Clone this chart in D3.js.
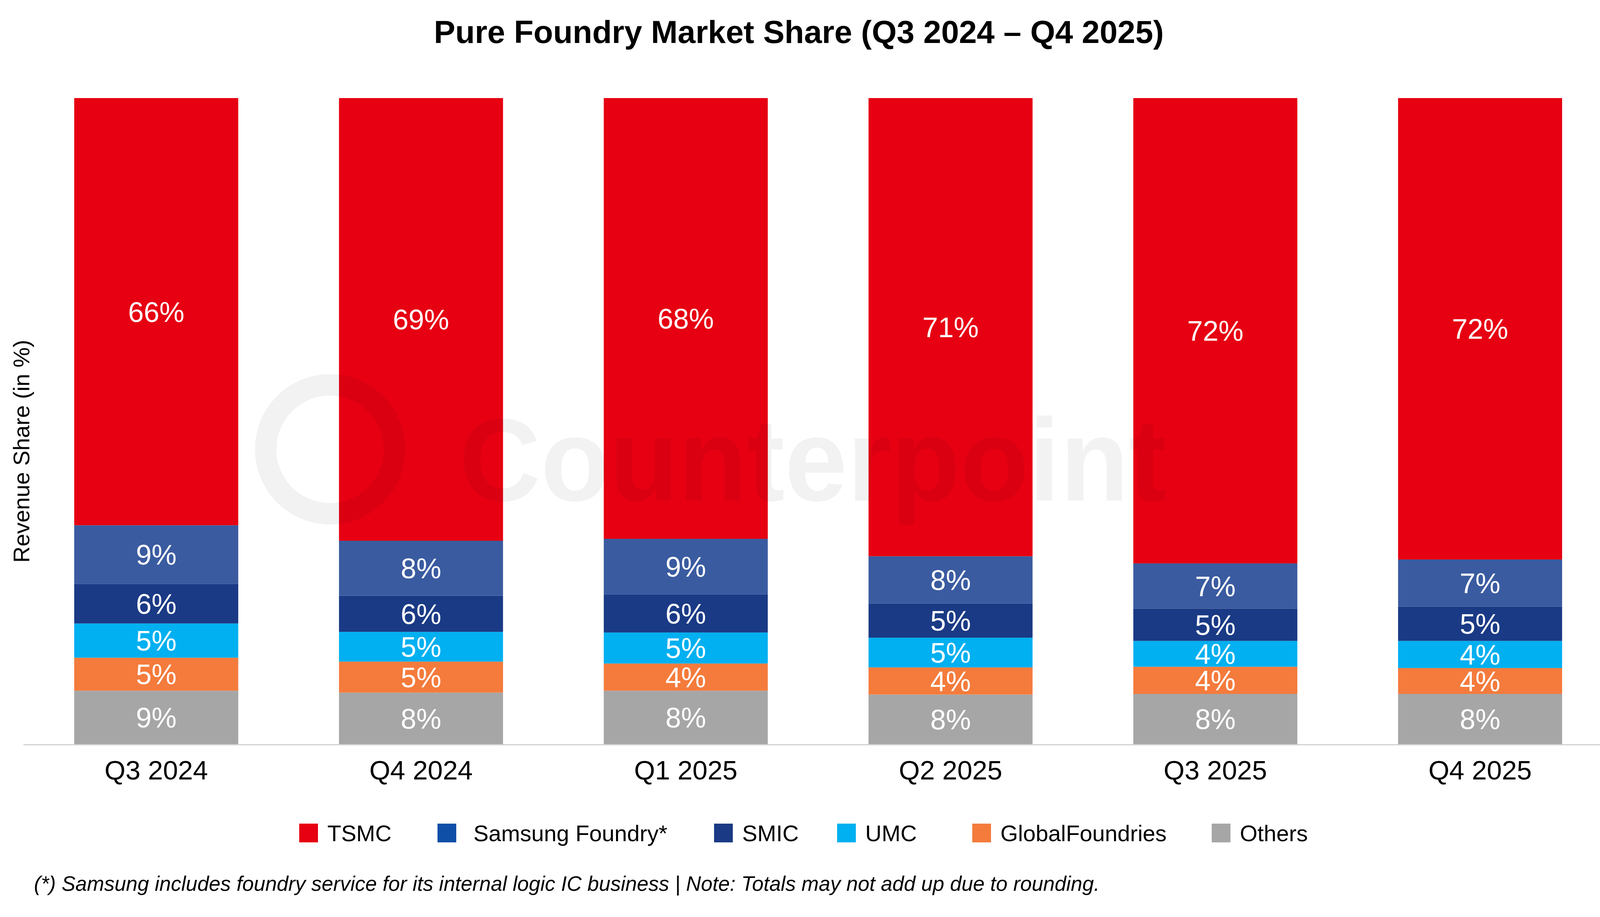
<!DOCTYPE html>
<html><head><meta charset="utf-8">
<script src="https://cdn.jsdelivr.net/npm/d3@7/dist/d3.min.js"></script>
<style>body{margin:0;background:#fff}svg{display:block}text{font-family:"Liberation Sans",Arial,sans-serif}</style>
</head><body>
<script>
const categories=["Q3 2024","Q4 2024","Q1 2025","Q2 2025","Q3 2025","Q4 2025"];
const seriesNames=["Others","GlobalFoundries","UMC","SMIC","Samsung Foundry*","TSMC"];
const others=[8.3,8.0,8.3,7.7,7.8,7.8];
const globalFoundries=[5.1,4.8,4.2,4.2,4.2,4.0];
const umc=[5.3,4.6,4.8,4.6,4.0,4.2];
const smic=[6.1,5.6,5.9,5.3,5.0,5.3];
const samsung=[9.1,8.5,8.6,7.3,7.0,7.3];
const tsmc=[66.1,68.5,68.2,70.9,72.0,71.4];
const labOthers=[9,8,8,8,8,8],labGF=[5,5,4,4,4,4],labUMC=[5,5,5,5,4,4],labSMIC=[6,6,6,5,5,5],labSam=[9,8,9,8,7,7],labTSMC=[66,69,68,71,72,72];
const values=[others,globalFoundries,umc,smic,samsung,tsmc];
const labels=[labOthers,labGF,labUMC,labSMIC,labSam,labTSMC];
const colors=["#a6a6a6","#f47b3c","#00b0f0","#1a3a85","#3a5ba0","#e60012"];
const legendOrder=["TSMC","Samsung Foundry*","SMIC","UMC","GlobalFoundries","Others"];
const legendColors=["#e60012","#0f4fa8","#1a3a85","#00b0f0","#f47b3c","#a6a6a6"];

const W=4143,H=2347;
const svg=d3.select("body").append("svg").attr("width",W).attr("height",H);

const x=d3.scaleBand().domain(categories).range([190,3999]).paddingInner(0.3805).paddingOuter(0);
const y=d3.scaleLinear().domain([0,100]).range([1905,251]);
const rows=categories.map((c,i)=>{const r={cat:c};seriesNames.forEach((s,j)=>r[s]=values[j][i]);return r;});
const stack=d3.stack().keys(seriesNames)(rows);
stack.forEach((layer,j)=>{
  svg.append("g").selectAll("rect").data(layer).join("rect")
   .attr("x",d=>x(d.data.cat)).attr("width",x.bandwidth())
   .attr("y",d=>y(d[1])).attr("height",d=>y(d[0])-y(d[1])).attr("fill",colors[j]);
});
// watermark over bars
svg.append("circle").attr("cx",845).attr("cy",1150).attr("r",165).attr("fill","none").attr("stroke","#000").attr("stroke-opacity",0.05).attr("stroke-width",55);
svg.append("text").attr("x",1176).attr("y",1281).attr("font-size",300).attr("font-weight","bold").attr("textLength",1810).attr("lengthAdjust","spacingAndGlyphs").attr("fill","#000").attr("fill-opacity",0.05).text("Counterpoint");
stack.forEach((layer,j)=>{
  svg.append("g").selectAll("text").data(layer).join("text")
   .attr("x",d=>x(d.data.cat)+x.bandwidth()/2).attr("y",d=>(y(d[0])+y(d[1]))/2)
   .attr("dy","0.36em").attr("text-anchor","middle").attr("fill","#fff").attr("font-size",72)
   .text((d,i)=>labels[j][i]+"%");
});
svg.append("line").attr("x1",60).attr("x2",4125).attr("y1",1906).attr("y2",1906).attr("stroke","#d0d0d0").attr("stroke-width",3);
const xa=svg.append("g").attr("transform","translate(0,1906)").call(d3.axisBottom(x).tickSize(0).tickPadding(40));
xa.select(".domain").remove();
xa.selectAll("text").attr("font-size",69).attr("fill","#000").attr("font-family","Liberation Sans,Arial,sans-serif");
svg.append("text").attr("transform","translate(75,1155) rotate(-90)").attr("text-anchor","middle").attr("font-size",58).text("Revenue Share (in %)");
svg.append("text").attr("x",2045).attr("y",110).attr("text-anchor","middle").attr("font-size",82).attr("font-weight","bold").text("Pure Foundry Market Share (Q3 2024 – Q4 2025)");
const lx=[766,1120,1828,2143,2489,3102];
legendOrder.forEach((n,i)=>{
  svg.append("rect").attr("x",lx[i]).attr("y",2108).attr("width",48).attr("height",48).attr("fill",legendColors[i]);
  svg.append("text").attr("x",lx[i]+(i==1?92:72)).attr("y",2153).attr("font-size",58).text(n);
});
svg.append("text").attr("x",87).attr("y",2280).attr("font-size",53).attr("font-style","italic").text("(*) Samsung includes foundry service for its internal logic IC business | Note: Totals may not add up due to rounding.");
</script>
</body></html>
